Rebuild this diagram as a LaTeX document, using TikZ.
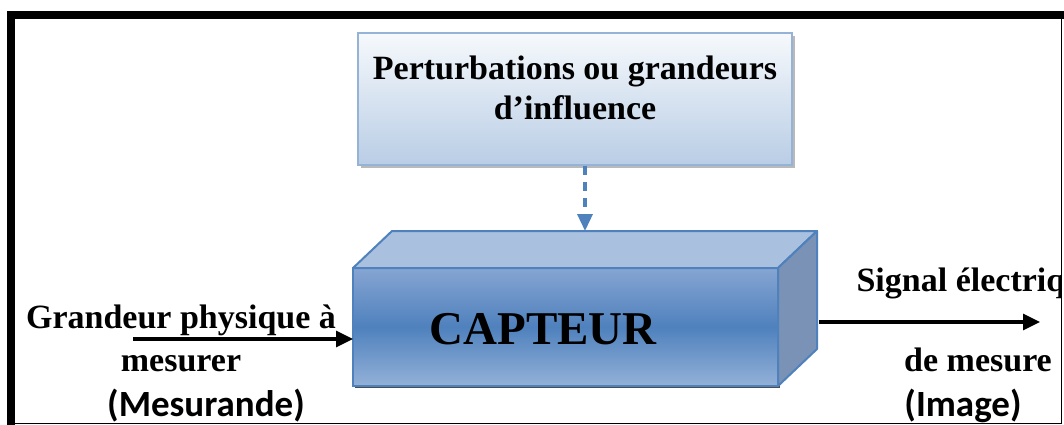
\documentclass[tikz,border=0pt]{standalone}
\usepackage{fontspec}
\setmainfont{Liberation Serif}
\newfontfamily\carlito{Carlito}
\usetikzlibrary{arrows.meta,shadows}
\definecolor{bleu}{HTML}{4F81BD}
\definecolor{bleuclair}{HTML}{95B3D7}
\definecolor{bleupale}{HTML}{B9CDE5}
\definecolor{blanchebleu}{HTML}{F6F9FC}
\definecolor{facehaut}{HTML}{A9C0DF}
\definecolor{facecote}{HTML}{7A92B6}
\definecolor{frontclair}{HTML}{86A5D2}
\definecolor{frontbas}{HTML}{93B1D8}
\begin{document}
\begin{tikzpicture}[x=1pt,y=-1pt,
influence/.style={rectangle, draw=bleuclair, line width=2.5pt, top color=blanchebleu, bottom color=bleupale, minimum width=434pt, minimum height=132pt, general shadow={fill=gray!55, shadow xshift=3pt, shadow yshift=-3pt}},
facade/.style={rectangle, draw=bleu, line width=2pt, outer sep=0pt, top color=frontclair, bottom color=frontbas, middle color=bleu, minimum width=425pt, minimum height=118pt, general shadow={fill=black!70, shadow xshift=2pt, shadow yshift=-2pt}},
titre/.style={align=center, font=\bfseries\fontsize{34}{40}\selectfont},
gros/.style={font=\bfseries\fontsize{47}{50}\selectfont},
legende/.style={font=\carlito\bfseries\fontsize{37}{40}\selectfont},
fleche/.style={line width=3.2pt, -{Triangle[length=17pt,width=16pt]}},
pointille/.style={bleu, line width=3.5pt, dash pattern=on 9pt off 7pt, -{Triangle[length=17pt,width=15pt]}}
]
\useasboundingbox (0,0) rectangle (1064,425);
\begin{scope}
\clip (15,19) rectangle (1061,423);
\node[influence] (influence) at (575,99) {};
\node[titre] (perturb) at (575,88) {Perturbations ou grandeurs\\d’influence};

\node[facade] (capteur) at (565.5,327) {};
\draw[bleu, line width=2pt, fill=facehaut, line join=round] (capteur.north west) -- ++(39,-37) -- ++(425,0) -- (capteur.north east) -- cycle;
\draw[bleu, line width=2pt, fill=facecote, line join=round] (capteur.north east) -- ++(39,-37) -- ++(0,118) -- (capteur.south east) -- cycle;
\node[gros] (nom) at (543,329) {CAPTEUR};

\coordinate (toit) at (585,231);
\coordinate (depart) at (133,339);
\coordinate (sortie) at (819,322);
\coordinate (arrivee) at (1040,322);

\node[titre] (entree) at (181,338) {Grandeur physique à\\[3pt]mesurer};
\node[legende] (mesurande) at (206,406) {(Mesurande)};
\node[titre, anchor=west] (signal) at (853,283) {Signal électrique};
\node[titre] (mesure) at (978,360) {de mesure};
\node[legende] (image) at (963,406) {(Image)};

\draw[pointille] (toit |- influence.south) -- (toit);
\draw[fleche] (depart) -- (depart -| capteur.west);
\draw[fleche] (sortie) -- (arrivee);
\end{scope}
\draw[line width=8pt] (11,425) -- (11,15) -- (1064,15);
\draw[line width=1.5pt] (11,423.5) -- (1061.5,423.5) -- (1061.5,19);
\end{tikzpicture}
\end{document}
